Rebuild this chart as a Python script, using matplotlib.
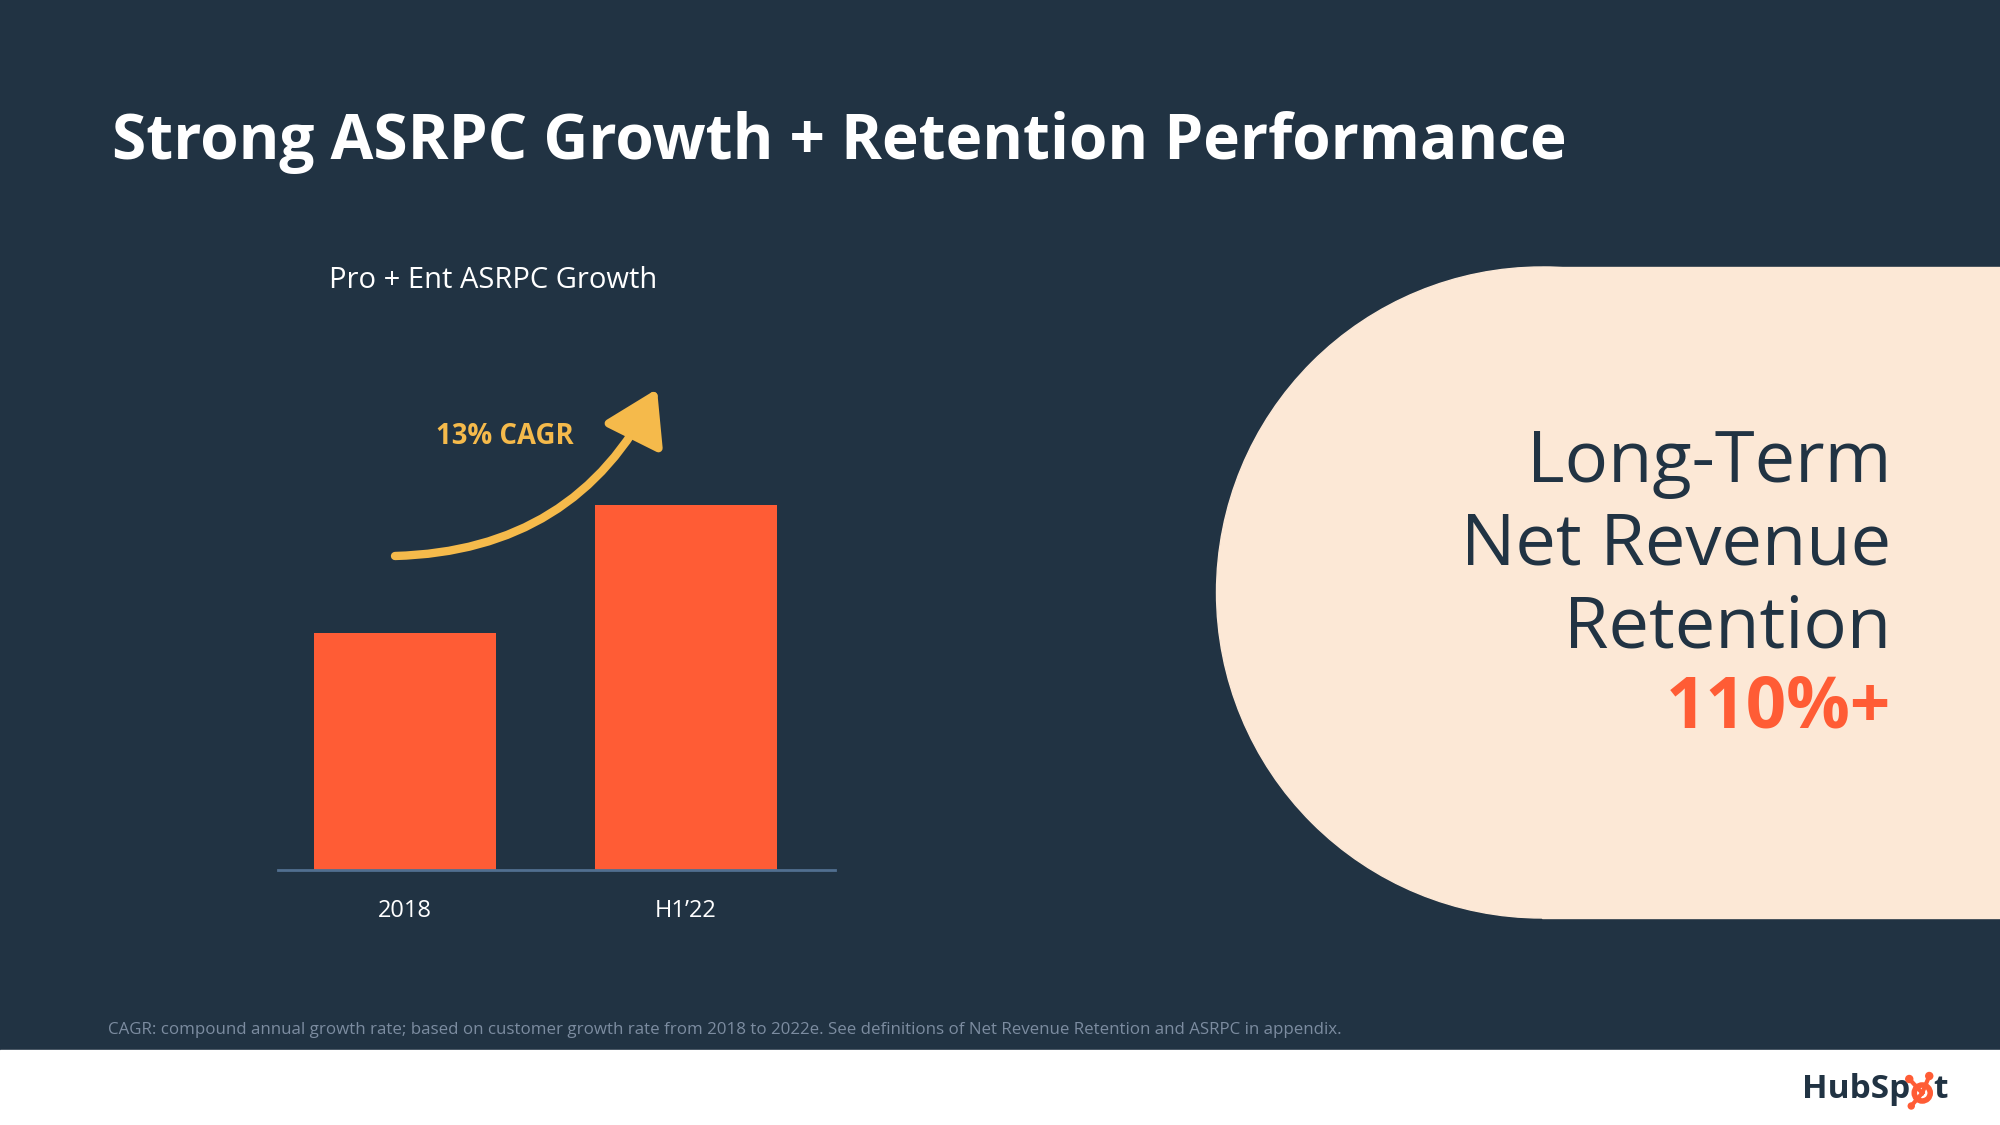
import matplotlib
matplotlib.use('Agg')
import matplotlib.pyplot as plt
from matplotlib.patches import Rectangle, Circle, FancyArrowPatch

# chart data
categories = ['2018', 'H1\u201922']
asrpc_index = [100, 154]   # relative ASRPC, 2018 = 100
cagr_label = '13% CAGR'

# colours
NAVY = '#213343'
ORANGE = '#FF5C35'
CREAM = '#FCE8D6'
YELLOW = '#F5BA4B'
AXIS = '#516F90'
FOOT = '#7C8CA0'

FONT = 'Open Sans'

fig = plt.figure(figsize=(20, 11.25), dpi=100)
fig.patch.set_facecolor(NAVY)

# slide layer in pixel coordinates
bg = fig.add_axes([0, 0, 1, 1])
bg.set_xlim(0, 2000)
bg.set_ylim(1125, 0)
bg.axis('off')
bg.set_facecolor(NAVY)

# white footer strip
bg.add_patch(Rectangle((0, 1050), 2000, 75, color='white', zorder=1))

# cream rounded panel on the right
bg.add_patch(Circle((1542, 592.5), 325.5, color=CREAM, zorder=1))
bg.add_patch(Rectangle((1542, 267), 460, 651, color=CREAM, zorder=1))

# title
bg.text(112, 143, 'Strong ASRPC Growth + Retention Performance', color='white',
        fontsize=44.7, fontweight='bold', family=FONT, va='center', ha='left')

# chart subtitle
bg.text(329, 281, 'Pro + Ent ASRPC Growth', color='white', fontsize=21,
        family=FONT, va='center', ha='left')

# growth arrow + label
arrow = FancyArrowPatch((395, 556), (657, 389), connectionstyle='arc3,rad=0.3',
                        arrowstyle='-|>,head_length=1.6,head_width=1.0',
                        mutation_scale=20, color=YELLOW, lw=6,
                        shrinkA=0, shrinkB=0, zorder=3)
bg.add_patch(arrow)
bg.text(505, 436, cagr_label, color=YELLOW, fontsize=19.8, fontweight='bold',
        family=FONT, va='center', ha='center')

# right panel text
for txt, y in [('Long-Term', 463), ('Net Revenue', 546), ('Retention', 629)]:
    bg.text(1891, y, txt, color=NAVY, fontsize=52, fontweight=500, family=FONT,
            va='center', ha='right', zorder=2)
bg.text(1891, 709, '110%+', color=ORANGE, fontsize=51, fontweight='bold',
        family=FONT, va='center', ha='right', zorder=2)

# footnote
bg.text(108, 1030, 'CAGR: compound annual growth rate; based on customer growth rate '
        'from 2018 to 2022e. See definitions of Net Revenue Retention and ASRPC in appendix.',
        color=FOOT, fontsize=12.15, family=FONT, va='center', ha='left')

# HubSpot logo (text + sprocket)
t1 = bg.text(1802, 1090, 'HubSp', color=NAVY, fontsize=24, fontweight='bold',
             family=FONT, va='center', ha='left', zorder=2)
fig.canvas.draw()
ext = t1.get_window_extent()
sx = ext.x1 + 12
sy = 1093
bg.add_patch(Circle((sx, sy), 8, fill=False, ec=ORANGE, lw=4, zorder=3))
for dx, dy, r in [(-13, -14, 3.5), (7, -17, 3.5), (-11, 13, 3.0)]:
    bg.plot([sx, sx + dx], [sy, sy + dy], color=ORANGE, lw=3, zorder=3)
    bg.add_patch(Circle((sx + dx, sy + dy), r, color=ORANGE, zorder=3))
bg.text(sx + 11, 1090, 't', color=NAVY, fontsize=24, fontweight='bold',
        family=FONT, va='center', ha='left', zorder=2)

# bar chart
ax = fig.add_axes([278 / 2000, 1 - 870 / 1125, 557 / 2000, 474 / 1125])
ax.patch.set_alpha(0)
x = range(len(categories))
ax.bar(x, asrpc_index, width=0.648, color=ORANGE, zorder=2)
ax.set_xlim(-0.452, 1.53)
ax.set_ylim(0, 200)
for s in ['top', 'right', 'left']:
    ax.spines[s].set_visible(False)
ax.spines['bottom'].set_color(AXIS)
ax.spines['bottom'].set_linewidth(2)
ax.set_yticks([])
ax.set_xticks(list(x))
ax.set_xticklabels(categories, color='white', fontsize=17, family=FONT)
ax.tick_params(axis='x', length=0, pad=21)

fig.savefig('out.png', dpi=100, facecolor=NAVY)
